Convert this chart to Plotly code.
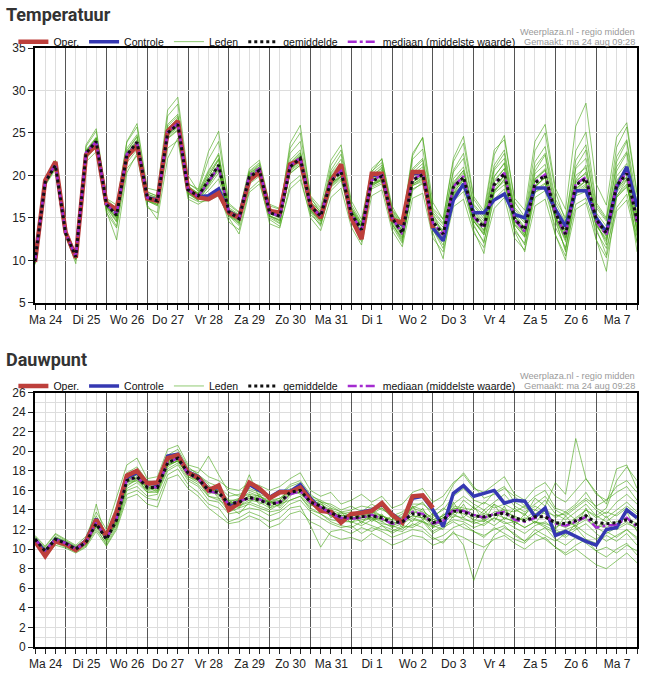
import plotly.graph_objects as go
import pandas as pd

# ---------------- time axis ----------------
START = "2020-08-24 06:00"
TIMES = pd.date_range(START, periods=60, freq="6h")
X_RANGE = ["2020-08-24 06:00", "2020-09-08 00:00"]
DAY_TICKS = pd.date_range("2020-08-25 00:00", periods=15, freq="D")
DAY_LABELS = ["Ma 24", "Di 25", "Wo 26", "Do 27", "Vr 28", "Za 29", "Zo 30",
              "Ma 31", "Di 1", "Wo 2", "Do 3", "Vr 4", "Za 5", "Zo 6", "Ma 7"]

# ---------------- temperature ----------------
T_OPER = [9.8,19.4,21.6,13.3,10.3,22.4,23.6,16.7,16.0,22.2, 23.5,17.3,17.0,25.2,26.4,18.4,17.4,17.2,17.9,15.6,
          15.0,19.4,20.4,15.8,15.6,21.3,21.8,16.5,15.0,19.3, 21.3,15.0,12.5,20.2,20.2,14.8,14.4,20.4,20.4,13.8]
T_CONTROLE = [9.9,19.3,21.5,13.3,10.4,22.5,23.8,16.6,15.8,22.3, 23.6,17.4,17.1,25.1,26.2,18.3,17.5,17.6,18.4,15.7,
              15.1,19.6,20.5,15.7,15.5,21.2,21.9,16.4,15.1,19.4, 21.0,15.1,12.8,20.0,20.1,14.9,14.2,20.2,20.3,13.8,
              12.3,17.1,19.0,15.6,15.6,17.1,17.8,15.4,15.0,18.5, 18.5,16.0,14.0,18.2,18.2,15.0,13.3,18.6,21.0,16.3]
T_MEAN = [9.9,19.2,21.2,13.2,10.4,22.6,24.0,16.6,15.3,22.4, 23.9,17.4,17.0,25.0,26.0,18.3,17.6,19.4,21.2,15.7,
          14.9,19.8,20.6,15.6,15.2,21.0,22.0,16.4,15.2,19.3, 20.4,15.5,13.6,19.3,19.9,15.0,13.2,19.4,20.1,14.5,
          13.1,18.6,19.8,15.2,13.9,18.9,20.2,14.9,13.6,19.1, 20.0,15.6,13.1,18.9,19.6,14.8,13.2,18.8,20.2,14.7]
T_MEDIAN = [9.9,19.3,21.3,13.2,10.4,22.7,24.0,16.6,15.4,22.5, 23.9,17.4,17.0,25.1,26.1,18.3,17.5,19.2,21.0,15.7,
            14.9,20.0,20.8,15.6,15.2,21.1,22.1,16.4,15.2,19.4, 20.5,15.5,13.5,19.4,20.0,15.0,13.1,19.5,20.2,14.4,
            13.0,18.7,19.9,15.1,13.8,19.0,20.3,14.8,13.4,19.2, 20.1,15.5,12.9,19.0,19.8,14.6,13.0,18.9,20.3,14.5]
T_M01 = [10.1,19.5,21.6,13.5,10.6,23.4,25.2,17.2,16.1,23.9, 25.7,18.1,17.5,27.0,28.4,19.1,18.2,21.9,24.0,16.7,
         15.7,20.8,21.8,16.6,16.1,23.2,25.0,17.6,16.2,21.8, 23.6,17.0,14.8,20.8,21.9,16.4,14.2,21.9,23.1,16.1,
         14.9,21.6,23.8,17.2,15.4,22.4,24.7,16.9,15.1,22.9, 25.0,18.1,14.6,22.9,25.1,16.8,15.0,23.3,25.7,17.7]
T_M02 = [9.6,18.8,20.7,12.8,10.0,21.6,22.8,15.6,13.8,20.8, 22.3,16.2,15.6,23.2,24.1,17.2,16.6,17.3,18.0,14.5,
         13.6,18.3,19.4,14.3,13.8,19.0,20.0,15.0,13.5,17.4, 18.5,13.9,11.8,17.6,18.3,13.5,11.6,17.3,17.9,12.6,
         11.0,16.3,17.2,13.2,11.5,16.1,17.4,12.6,11.2,16.4, 17.2,13.0,10.5,16.0,16.8,12.4,10.3,15.8,17.1,12.2]
T_M03 = [10.0,19.0,21.0,13.4,10.5,22.9,24.3,16.9,15.7,22.8, 24.5,17.8,17.3,25.6,26.5,18.6,17.9,20.2,22.0,15.9,
         15.3,20.3,21.0,15.9,15.6,21.5,22.7,16.8,15.8,20.0, 21.0,16.0,14.2,19.9,20.6,15.6,13.8,20.1,21.0,15.2,
         13.9,19.6,21.0,16.0,14.6,19.9,21.4,15.7,14.4,20.2, 21.3,16.4,13.8,20.0,20.9,15.6,14.0,19.9,21.4,15.5]
T_M04 = [9.8,19.3,21.4,13.1,10.2,22.3,23.7,16.4,15.0,22.0, 23.5,17.1,16.8,24.6,25.6,18.0,17.2,18.6,20.3,15.4,
         14.5,19.3,20.1,15.2,14.8,20.5,21.4,16.0,14.7,20.6, 22.5,16.3,14.0,20.5,21.5,16.0,14.5,22.6,24.4,16.8,
         14.8,22.0,24.6,17.5,15.8,23.0,24.2,17.3,15.9,24.0, 26.0,18.5,16.0,25.8,28.5,19.0,16.5,24.5,26.2,18.0]
T_M05 = [9.7,19.1,21.1,13.0,10.1,22.2,23.5,16.2,14.5,21.8, 23.4,17.0,16.5,24.7,25.8,17.9,17.0,18.8,20.8,15.2,
         14.1,19.5,20.3,15.0,14.3,20.6,21.6,15.7,14.0,18.8, 20.0,14.6,12.2,18.7,19.6,14.0,12.0,18.9,19.8,13.2,
         10.2,17.9,19.5,13.5,10.8,18.2,20.0,13.4,11.0,18.6, 19.8,13.0,10.0,18.2,19.4,12.5,8.7,17.5,19.5,11.0]
T_M06 = [10.0,19.4,21.3,13.4,10.6,23.0,24.5,17.0,16.0,23.2, 24.8,18.0,17.6,26.0,27.2,19.0,18.4,22.8,25.2,16.5,
         15.6,20.5,21.5,16.4,16.0,22.6,24.0,17.2,16.0,19.9, 20.9,15.8,13.9,19.0,19.5,15.3,13.5,19.0,19.6,14.0,
         12.6,17.9,18.8,14.6,13.0,18.1,19.5,14.2,12.7,18.6, 19.9,15.0,12.2,18.1,19.0,14.2,12.4,18.2,19.9,13.4]
T_M07 = [9.5,18.9,20.9,12.9,9.6,22.0,23.3,15.8,12.4,20.3, 22.6,16.5,14.8,22.0,24.4,17.5,16.9,17.0,17.6,15.0,
         13.1,18.0,19.0,14.8,14.0,18.4,19.5,15.4,14.2,18.2, 19.4,14.8,12.9,18.4,19.0,14.2,12.6,18.2,19.2,13.8,
         12.4,17.6,18.9,14.6,13.4,18.0,19.6,14.4,13.0,18.0, 19.0,15.0,12.6,17.9,18.8,14.0,12.6,17.6,19.0,13.9]
T_M08 = [10.1,19.6,21.8,13.6,10.7,23.6,25.5,17.3,16.5,24.0, 26.1,18.5,18.2,27.7,29.2,20.0,18.1,20.6,22.4,16.2,
         15.4,20.2,21.2,16.0,15.5,23.8,25.9,17.5,15.5,20.3, 21.9,15.9,13.2,19.8,21.0,15.2,13.0,20.6,21.8,15.0,
         13.5,19.0,20.6,15.8,14.3,20.8,22.6,15.5,13.9,20.5, 22.4,16.0,13.0,21.0,23.0,15.2,13.4,21.6,24.0,15.0]
T_M09 = [9.8,19.0,20.9,13.1,10.3,22.4,23.8,16.3,15.0,22.1, 23.6,17.0,16.6,24.4,25.4,18.0,17.3,18.9,20.6,15.4,
         14.6,19.6,20.4,15.3,14.6,20.2,21.2,15.9,14.6,18.6, 19.6,15.0,13.0,18.6,19.2,14.4,12.4,18.4,19.0,13.6,
         11.8,17.0,18.1,14.0,12.2,17.2,18.4,13.5,12.0,17.4, 18.2,13.9,11.5,16.6,17.3,13.4,11.4,16.2,17.8,12.8]
T_M10 = [10.0,19.3,21.3,13.3,10.4,22.8,24.2,16.8,15.6,22.6, 24.2,17.6,17.2,25.3,26.2,18.4,17.7,19.6,21.4,15.8,
         15.1,20.0,20.9,15.8,15.4,21.3,22.4,16.6,15.5,19.6, 20.8,15.9,14.0,19.6,20.4,15.4,13.8,20.3,21.4,15.6,
         14.2,20.4,22.0,16.4,14.9,20.6,22.0,16.0,14.6,21.0, 22.6,16.8,14.4,20.8,22.0,16.2,14.6,21.0,22.8,16.4]
T_M11 = [9.9,19.1,21.0,13.0,10.2,22.5,23.9,16.5,15.2,22.3, 23.8,17.2,16.9,24.8,25.9,18.2,17.5,19.3,21.0,15.6,
         14.8,19.7,20.5,15.5,15.0,20.8,21.8,16.2,14.9,18.9, 19.9,14.9,12.6,19.0,19.6,14.7,12.9,19.2,19.9,14.2,
         12.6,18.4,19.6,15.0,13.5,18.7,20.0,14.6,13.2,18.8, 19.7,15.2,12.7,18.5,19.3,14.4,12.8,18.4,19.8,14.2]
T_M12 = [9.7,19.2,21.2,13.2,10.4,22.7,24.4,16.0,14.0,21.5, 23.0,17.4,17.1,25.4,26.8,18.8,17.8,19.8,21.9,16.0,
         15.2,20.0,20.8,15.7,15.2,21.2,22.3,16.6,15.4,21.2, 23.0,16.6,14.4,20.4,22.0,15.8,14.0,22.3,24.5,15.5,
         13.0,18.0,19.4,14.6,13.2,19.8,21.5,15.4,12.8,19.6, 20.8,15.0,11.0,19.5,21.2,14.5,11.8,20.5,22.6,13.0]
T_M13 = [10.0,19.4,21.5,13.4,10.5,22.9,24.4,16.9,15.9,22.9, 24.6,17.8,17.4,25.8,27.0,18.7,17.9,20.4,22.6,16.0,
         15.3,20.4,21.3,16.0,15.6,21.8,23.0,16.9,15.7,20.2, 21.4,16.0,13.9,20.0,20.8,15.4,13.4,19.8,20.6,14.8,
         13.4,19.2,20.6,15.6,14.2,19.4,20.8,15.2,13.8,19.6, 20.6,15.8,13.4,19.4,20.2,15.0,13.6,19.4,20.9,15.0]
T_M14 = [9.8,19.1,21.1,13.1,10.3,22.4,23.8,16.4,14.8,21.9, 23.4,17.1,16.6,24.3,25.3,17.8,17.1,18.2,19.6,15.3,
         14.4,19.0,19.9,15.2,14.7,20.3,21.2,15.8,14.6,18.7, 19.8,15.1,13.1,18.8,19.4,14.6,12.7,18.8,19.5,14.0,
         12.2,17.8,19.0,14.6,13.0,18.2,19.3,14.2,12.8,18.3, 19.1,15.0,12.4,17.8,18.6,14.2,12.2,17.4,18.8,13.6]
T_M15 = [9.9,19.2,21.2,13.2,10.4,22.6,24.1,16.7,15.4,22.6, 24.0,17.5,17.1,25.2,26.4,18.4,17.7,19.9,21.8,15.8,
         15.0,20.1,21.0,15.8,15.4,21.4,22.6,16.6,15.4,19.8, 21.2,16.2,14.4,20.2,21.2,15.9,14.2,20.8,22.0,15.9,
         14.4,20.6,22.6,16.6,15.2,21.2,23.0,16.2,14.9,21.6, 23.4,17.2,15.0,21.8,23.6,16.5,14.8,22.2,24.2,16.8]
T_M16 = [9.7,19.0,21.0,13.0,10.2,22.4,23.9,16.3,14.6,22.1, 23.7,17.0,16.4,24.8,25.8,17.9,17.2,19.0,20.9,15.3,
         14.3,19.5,20.4,15.2,14.4,20.7,21.8,15.9,14.3,19.0, 20.2,14.8,12.6,19.0,19.8,14.3,12.2,19.2,20.0,13.6,
         11.4,18.2,19.6,14.2,12.0,18.6,20.0,13.8,11.8,18.6, 19.8,14.6,11.2,18.4,19.4,13.8,10.6,18.0,19.6,12.0]
T_M17 = [10.0,19.3,21.2,13.3,10.5,22.6,24.0,16.7,15.5,22.5, 24.0,17.5,17.0,25.1,26.1,18.4,17.7,19.5,21.3,15.8,
         15.0,19.9,20.7,15.7,15.3,21.1,22.1,16.5,15.3,19.4, 20.6,15.6,13.7,19.5,20.2,15.2,13.4,19.6,20.5,14.6,
         13.3,18.9,20.3,15.4,14.0,19.2,20.8,15.1,13.7,19.4, 20.6,15.8,13.2,19.2,20.4,15.0,13.4,19.2,21.0,14.9]
T_M18 = [9.8,19.2,21.3,13.1,10.3,22.5,23.9,16.5,15.1,22.2, 23.7,17.3,16.9,24.9,25.9,18.2,17.4,19.1,20.9,15.6,
         14.8,19.6,20.4,15.5,15.0,20.8,21.7,16.2,15.0,19.0, 19.9,15.2,13.3,18.9,19.4,14.8,13.0,18.8,19.3,14.2,
         12.8,17.8,18.6,14.8,13.6,17.9,18.9,14.6,13.3,18.0, 18.6,15.3,12.8,17.6,18.1,14.5,12.9,17.4,18.6,14.4]

# ---------------- dew point ----------------
D_OPER = [10.8,9.3,10.8,10.5,9.9,10.8,13.0,11.3,13.8,17.5, 18.0,16.7,16.8,19.3,19.6,17.8,17.3,16.0,16.5,14.0,
          14.7,16.8,16.2,15.2,15.8,15.8,16.3,15.0,13.9,13.8, 12.7,13.6,13.7,13.9,14.7,13.5,12.7,15.4,15.5,14.2]
D_CONTROLE = [11.0,9.7,11.0,10.6,10.0,10.9,13.1,11.2,13.6,17.3, 17.8,16.8,16.6,19.5,19.7,17.9,17.4,16.1,16.3,14.3,
              14.8,16.6,16.0,15.3,15.9,15.9,16.6,15.2,14.1,13.8, 12.9,13.5,13.8,14.0,14.6,13.6,12.8,15.2,15.4,14.0,
              12.3,15.7,16.5,15.4,15.7,16.0,14.7,15.0,14.9,13.3, 14.2,11.4,11.8,11.3,10.8,10.4,12.0,12.2,14.0,13.2]
D_MEAN = [11.0,9.8,11.0,10.6,10.0,10.7,12.6,11.0,13.0,17.0, 17.4,16.3,16.3,18.8,19.3,17.8,17.2,16.0,15.8,14.6,
          14.8,15.3,15.0,14.6,14.8,15.8,16.0,14.8,14.4,13.7, 13.3,13.2,13.3,13.4,13.2,12.7,12.8,13.6,13.5,12.7,
          13.0,13.9,13.8,13.4,13.3,13.5,13.7,13.2,12.9,13.3, 13.3,12.7,12.6,12.9,13.4,12.7,12.6,12.7,13.0,12.5]
D_MEDIAN = [11.0,9.9,11.0,10.6,10.0,10.7,12.7,11.0,13.1,17.1, 17.3,16.4,16.3,18.8,19.3,17.7,17.2,15.9,15.7,14.6,
            14.9,15.2,15.1,14.6,14.8,15.6,15.9,14.8,14.3,13.6, 13.2,13.1,13.2,13.5,13.1,12.6,12.7,13.8,13.6,12.6,
            12.9,14.0,13.9,13.5,13.2,13.6,13.8,13.0,12.8,13.2, 13.4,12.6,12.4,12.8,13.3,12.2,12.4,12.5,13.2,12.3]
D_M01 = [11.4,10.3,11.6,11.0,10.4,11.3,13.8,12.0,15.2,18.6, 19.3,17.2,17.4,20.2,20.6,18.6,18.3,17.4,17.0,16.2,
         16.0,16.8,16.5,16.0,16.4,17.2,17.8,16.0,15.4,15.8, 14.6,15.0,15.6,14.8,15.4,14.2,14.6,15.8,16.2,14.8,
         15.4,16.8,17.6,16.2,15.8,16.6,17.4,15.6,15.0,16.2, 16.8,15.4,14.8,16.0,17.2,15.6,15.0,16.4,17.0,15.8]
D_M02 = [10.6,9.2,10.4,10.1,9.6,10.2,11.8,10.3,12.0,15.2, 15.6,14.6,14.3,17.2,17.6,16.2,15.4,14.2,13.4,12.6,
         12.8,13.4,13.0,12.2,12.6,13.6,13.9,12.8,12.3,11.4, 11.0,11.2,10.8,11.6,11.0,10.4,10.8,11.4,11.2,10.4,
         10.8,11.6,11.2,10.6,10.2,11.0,11.4,10.6,10.0,10.8, 11.2,10.2,9.6,10.4,11.0,9.8,9.2,10.0,10.6,9.4]
D_M03 = [11.1,10.0,11.2,10.7,10.1,10.6,12.4,11.1,13.2,16.8, 17.0,16.0,16.6,18.6,19.0,17.6,17.0,15.6,16.2,14.2,
         15.2,15.0,15.6,14.2,15.0,16.2,15.6,14.4,14.9,13.2, 13.8,12.6,13.8,12.8,13.6,12.2,13.4,12.8,14.2,12.2,
         13.6,13.2,14.6,12.8,14.0,12.8,14.4,12.4,13.6,12.6, 14.0,12.0,13.4,12.2,14.2,12.0,13.4,12.0,13.8,11.8]
D_M04 = [10.9,9.6,10.9,10.5,9.9,10.8,12.8,10.8,12.6,16.4, 17.2,15.8,16.0,18.4,19.1,17.4,16.8,16.4,15.2,14.8,
         14.2,15.6,14.6,15.0,14.2,15.4,16.4,14.6,13.8,14.2, 12.8,13.8,12.6,14.0,12.8,13.4,12.2,14.4,13.0,13.6,
         12.4,14.8,13.2,14.4,12.8,14.6,13.0,14.2,13.4,15.2, 14.4,16.8,15.6,21.3,17.2,15.8,14.6,18.2,18.6,16.2]
D_M05 = [11.2,9.9,11.3,10.8,10.2,10.9,12.2,11.4,13.6,17.4, 17.6,16.6,16.0,19.0,19.8,18.0,17.6,16.6,15.4,15.0,
         14.4,14.8,15.4,14.8,14.4,15.6,15.8,14.8,14.2,13.6, 12.6,13.4,12.8,13.2,12.4,12.0,11.8,12.6,12.2,11.2,
         10.6,11.8,10.4,6.8,9.6,11.4,12.2,11.6,10.8,12.0, 11.4,10.8,11.6,12.2,11.0,10.6,11.4,10.8,11.6,10.4]
D_M06 = [11.0,10.1,11.0,10.4,10.0,10.5,14.6,10.9,13.0,17.2, 17.8,16.2,16.4,19.2,19.4,18.2,17.8,19.5,17.6,15.8,
         15.4,16.2,15.8,15.4,15.6,16.6,17.0,15.6,14.8,14.6, 14.0,14.4,13.8,14.6,14.0,13.6,13.2,14.2,14.8,13.4,
         14.0,15.4,16.2,15.0,14.6,15.8,16.4,14.8,14.2,14.0, 15.0,13.6,13.0,13.8,14.6,13.4,12.8,13.6,14.4,13.6]
D_M07 = [10.8,9.5,10.7,10.3,9.8,10.4,12.0,10.6,12.4,16.0, 16.4,15.4,15.6,18.0,18.6,17.0,16.4,15.0,14.8,13.6,
         13.8,14.2,14.0,13.4,13.8,14.6,15.0,13.8,13.2,12.6, 12.2,12.4,11.6,12.2,11.8,11.2,11.6,12.0,11.8,11.0,
         11.4,12.2,12.6,11.8,11.4,12.0,12.4,11.4,10.8,11.6, 11.0,10.2,9.4,10.0,9.2,8.4,8.0,8.8,9.6,8.6]
D_M08 = [11.3,10.2,11.5,10.9,10.3,11.0,13.4,11.6,14.4,17.8, 18.4,17.0,16.8,19.6,20.2,18.4,17.6,16.8,16.4,15.4,
         15.6,16.0,15.6,15.2,15.6,16.4,16.8,15.4,15.0,14.4, 13.8,14.0,14.4,14.2,14.2,13.4,13.8,14.6,14.6,13.8,
         14.6,16.6,17.8,16.4,15.2,15.6,16.2,15.4,14.4,15.4, 16.0,14.2,13.8,14.6,15.8,14.2,13.6,14.8,15.6,14.6]
D_M09 = [10.9,9.7,10.8,10.6,9.9,10.6,12.6,11.0,12.8,16.6, 17.0,16.4,15.8,18.8,19.2,17.4,17.0,15.4,15.0,14.4,
         13.6,14.8,14.4,14.0,14.6,15.0,15.4,14.2,13.6,13.0, 12.8,12.8,12.4,13.0,12.6,12.4,12.0,13.0,12.8,12.4,
         12.0,13.4,13.2,12.6,13.0,12.4,13.2,12.8,12.2,12.8, 12.4,11.8,11.2,12.0,12.6,11.6,10.8,11.4,12.0,11.2]
D_M10 = [11.1,9.9,11.1,10.7,10.1,10.8,12.9,11.2,13.4,17.0, 17.6,16.4,16.5,18.9,19.5,17.9,17.2,16.2,16.6,14.6,
         15.0,17.6,15.2,14.8,15.0,15.9,16.2,15.0,14.6,13.8, 13.4,13.6,13.2,13.8,13.4,13.0,12.8,14.0,13.4,13.0,
         13.4,14.4,14.2,14.0,14.8,14.2,14.6,14.0,13.6,14.4, 13.8,13.4,13.6,14.4,15.2,14.4,15.0,15.8,16.4,15.0]
D_M11 = [10.7,9.4,10.6,10.2,9.7,10.3,12.3,10.4,12.2,15.6, 16.0,15.2,15.0,17.6,18.2,16.6,15.8,14.6,14.2,12.8,
         13.2,13.8,13.4,12.8,13.2,14.2,14.4,12.4,10.2,11.8, 12.0,11.6,12.2,11.8,12.4,11.6,12.2,12.4,13.0,11.8,
         12.4,13.0,12.8,12.2,12.6,13.2,12.8,12.2,11.6,12.4, 12.8,12.0,11.4,12.6,13.2,12.2,11.6,12.2,12.8,12.0]
D_M12 = [11.0,9.8,11.0,10.5,10.0,10.7,12.7,11.0,13.2,17.2, 17.2,16.6,16.2,18.6,19.0,17.6,17.4,16.2,15.6,14.8,
         14.6,15.4,15.2,14.6,14.8,15.6,16.2,14.8,14.4,13.6, 13.2,13.0,13.6,13.2,13.0,12.6,13.0,13.4,13.2,12.8,
         13.2,14.2,14.0,13.6,13.0,13.8,14.0,13.2,13.0,14.0, 13.6,12.8,12.4,13.2,14.0,13.4,14.2,17.0,18.4,17.0]
D_M13 = [11.0,9.9,11.1,10.6,10.0,10.8,12.8,11.1,13.4,17.4, 17.8,16.6,16.6,19.0,19.6,17.9,17.4,16.4,16.0,14.8,
         15.2,15.6,15.4,14.8,15.2,16.0,16.4,15.0,14.6,14.0, 13.6,13.8,13.2,14.0,13.4,13.0,13.6,14.2,13.8,13.2,
         14.2,13.6,15.0,14.2,13.6,14.6,14.0,13.8,14.4,13.6, 14.2,13.2,13.8,13.0,14.0,13.2,13.8,13.4,14.2,13.0]
D_M14 = [10.9,9.7,10.9,10.5,9.9,10.6,12.5,10.8,12.8,16.8, 17.2,16.0,16.2,18.6,19.0,17.6,17.0,15.8,15.6,14.4,
         14.4,15.0,14.8,14.2,14.6,15.6,15.8,14.6,14.0,13.4, 13.0,12.8,13.0,13.2,12.8,12.2,12.6,13.2,12.8,12.2,
         12.6,13.6,13.0,12.8,12.4,13.2,12.6,12.8,12.2,12.8, 12.2,11.6,12.0,12.4,11.6,11.0,11.8,11.2,12.0,11.0]
D_M15 = [11.2,10.0,11.2,10.8,10.2,10.9,12.8,11.2,13.6,17.6, 17.6,16.8,16.4,19.2,19.8,18.0,17.2,16.2,16.2,15.0,
         15.0,15.8,15.4,15.0,15.2,16.0,16.4,15.2,14.8,14.2, 13.8,13.4,14.0,13.6,14.2,13.2,12.8,14.4,14.0,13.0,
         13.4,14.6,15.4,14.6,14.0,14.8,15.6,14.4,13.8,14.6, 15.4,14.0,13.4,14.2,15.0,14.0,13.2,14.0,14.8,13.8]
D_M16 = [10.8,9.6,10.8,10.4,9.9,10.6,12.4,10.9,12.6,16.2, 16.8,15.8,15.8,18.2,18.8,17.2,16.6,15.4,15.2,13.8,
         14.2,14.6,14.2,13.8,14.0,15.0,15.4,14.0,13.6,12.8, 12.4,12.2,12.8,12.4,12.0,11.8,12.4,12.2,12.8,11.6,
         12.2,12.8,12.2,11.8,11.2,12.2,11.6,11.0,10.6,11.6, 12.2,11.0,10.4,11.2,10.6,9.8,10.2,9.6,10.4,9.8]
D_M17 = [11.1,9.8,11.0,10.7,10.1,10.7,12.6,11.0,13.0,16.9, 17.3,16.3,16.2,18.7,19.2,17.8,17.3,16.1,15.9,14.7,
         14.7,15.4,15.0,14.8,14.6,15.7,16.0,14.9,14.3,13.8, 13.4,13.4,13.6,13.6,13.4,12.8,12.6,13.8,13.6,12.8,
         13.2,14.2,14.0,13.2,13.6,13.4,13.8,13.4,12.8,13.6, 13.2,12.6,12.2,12.8,13.6,12.4,12.2,12.8,13.2,12.6]
D_M18 = [11.0,9.9,11.0,10.6,10.0,10.7,12.6,11.0,13.2,17.0, 17.4,16.2,16.4,18.8,19.4,17.8,17.0,15.8,16.0,14.4,
         14.8,15.2,15.0,14.4,14.8,15.8,15.8,14.6,14.2,13.4, 13.0,13.2,13.4,13.0,13.2,12.4,12.8,13.4,13.2,12.4,
         12.8,13.8,13.6,13.0,12.8,13.6,13.2,12.8,13.2,12.8, 12.6,12.2,12.8,12.4,13.0,12.2,12.6,12.0,12.6,12.2]

T_MEMBERS = [T_M01, T_M02, T_M03, T_M04, T_M05, T_M06, T_M07, T_M08, T_M09,
             T_M10, T_M11, T_M12, T_M13, T_M14, T_M15, T_M16, T_M17, T_M18]
D_MEMBERS = [D_M01, D_M02, D_M03, D_M04, D_M05, D_M06, D_M07, D_M08, D_M09,
             D_M10, D_M11, D_M12, D_M13, D_M14, D_M15, D_M16, D_M17, D_M18]

for arr in T_MEMBERS + D_MEMBERS + [T_MEAN, T_MEDIAN, T_CONTROLE, D_MEAN, D_MEDIAN, D_CONTROLE]:
    assert len(arr) == len(TIMES), len(arr)

# ---------------- styling ----------------
OPER_COLOR = "#bd3f3b"
CTRL_COLOR = "#3538b2"
LEDEN_COLOR = "rgba(70,165,20,0.6)"
MEAN_COLOR = "#111111"
MEDIAN_COLOR = "#a42bd0"
GRID_LIGHT = "#dddddd"
GRID_DAY = "#555555"
FONT = "Liberation Sans, Arial, sans-serif"

fig = go.Figure()


def add_panel(xa, ya, legend, members, oper, ctrl, mean, median):
    for k, m in enumerate(members):
        fig.add_trace(go.Scatter(x=TIMES, y=m, mode="lines", name="Leden",
                                 line=dict(color=LEDEN_COLOR, width=1),
                                 legendgroup=legend + "leden", showlegend=(k == 0),
                                 legendrank=3, legend=legend, xaxis=xa, yaxis=ya,
                                 hoverinfo="skip"))
    fig.add_trace(go.Scatter(x=TIMES, y=ctrl, mode="lines", name="Controle",
                             line=dict(color=CTRL_COLOR, width=3.5),
                             legendrank=2, legend=legend, xaxis=xa, yaxis=ya))
    fig.add_trace(go.Scatter(x=TIMES[:len(oper)], y=oper, mode="lines", name="Oper.",
                             line=dict(color=OPER_COLOR, width=4.5),
                             legendrank=1, legend=legend, xaxis=xa, yaxis=ya))
    fig.add_trace(go.Scatter(x=TIMES, y=median, mode="lines", name="mediaan (middelste waarde)",
                             line=dict(color=MEDIAN_COLOR, width=2.5, dash="dashdot"),
                             legendrank=5, legend=legend, xaxis=xa, yaxis=ya))
    fig.add_trace(go.Scatter(x=TIMES, y=mean, mode="lines", name="gemiddelde",
                             line=dict(color=MEAN_COLOR, width=3, dash="dot"),
                             legendrank=4, legend=legend, xaxis=xa, yaxis=ya))


add_panel("x", "y", "legend", T_MEMBERS, T_OPER, T_CONTROLE, T_MEAN, T_MEDIAN)
add_panel("x2", "y2", "legend2", D_MEMBERS, D_OPER, D_CONTROLE, D_MEAN, D_MEDIAN)

xaxis_style = dict(
    type="date", range=X_RANGE, tickmode="array", tickvals=DAY_TICKS, ticktext=DAY_LABELS,
    ticklabelshift=-20, ticks="outside", ticklen=5, tickcolor="#222",
    showgrid=True, gridcolor=GRID_DAY, gridwidth=1,
    showline=True, linecolor="black", linewidth=2, mirror=True, zeroline=False,
    tickfont=dict(size=12, color="#222"),
    minor=dict(tickmode="linear", tick0="2020-08-24 00:00", dtick=6 * 3600 * 1000,
               ticks="outside", ticklen=5, tickcolor="#222",
               showgrid=True, gridcolor=GRID_LIGHT, gridwidth=1),
)
yaxis_common = dict(ticks="outside", ticklen=5, tickcolor="#222", showgrid=True,
                    gridcolor=GRID_LIGHT, gridwidth=1, showline=True, linecolor="black",
                    linewidth=2, mirror=True, zeroline=False,
                    tickfont=dict(size=12, color="#222"))

PLOT_H = 683 - 48 - 23
LEGEND_RIGHT = (520 - 33) / 604
legend_common = dict(orientation="h", x=LEGEND_RIGHT, xanchor="right", yanchor="middle",
                     font=dict(size=10.5, color="#111"), bgcolor="rgba(0,0,0,0)",
                     itemwidth=30, tracegroupgap=0)
fig.update_layout(
    width=651, height=683,
    margin=dict(l=33, r=14, t=48, b=23),
    paper_bgcolor="white", plot_bgcolor="white",
    font=dict(family=FONT, size=12, color="#222"),
    hovermode=False,
    xaxis=dict(domain=[0, 1], anchor="y", **xaxis_style),
    xaxis2=dict(domain=[0, 1], anchor="y2", **xaxis_style),
    yaxis=dict(domain=[(660 - 308.3) / PLOT_H, 1], anchor="x", range=[5, 35],
               tickmode="linear", tick0=5, dtick=5, **yaxis_common),
    yaxis2=dict(domain=[0, (660 - 400) / PLOT_H], anchor="x2", range=[0, 26],
                tickmode="linear", tick0=0, dtick=2,
                minor=dict(tickmode="linear", tick0=0, dtick=1, showgrid=True,
                           gridcolor=GRID_LIGHT, gridwidth=1),
                **yaxis_common),
    legend=dict(y=(660 - 41.5) / PLOT_H, **legend_common),
    legend2=dict(y=(660 - 393.3) / PLOT_H, **legend_common),
)

TITLE_FONT = dict(family="Roboto, Liberation Sans, Arial", size=18, color="#333")
SRC_FONT = dict(family=FONT, size=9.2, color="#9a9a9a")
for title, ty, s1, s2 in [("<b>Temperatuur</b>", 14, 32.0, 41.8),
                          ("<b>Dauwpunt</b>", 366, 383.3, 393.1)]:
    fig.add_annotation(text=title, xref="paper", yref="paper", x=(2 - 33) / 604,
                       y=(660 - ty) / PLOT_H, xanchor="left", yanchor="middle",
                       showarrow=False, font=TITLE_FONT)
    fig.add_annotation(text="Weerplaza.nl - regio midden", xref="paper", yref="paper",
                       x=1, y=(660 - s1) / PLOT_H, xanchor="right", yanchor="middle",
                       showarrow=False, font=SRC_FONT)
    fig.add_annotation(text="Gemaakt: ma 24 aug 09:28", xref="paper", yref="paper",
                       x=1, y=(660 - s2) / PLOT_H, xanchor="right", yanchor="middle",
                       showarrow=False, font=SRC_FONT)

fig.write_html("out.html", config={"displayModeBar": False},
               post_script="document.body.style.margin='0px';")
